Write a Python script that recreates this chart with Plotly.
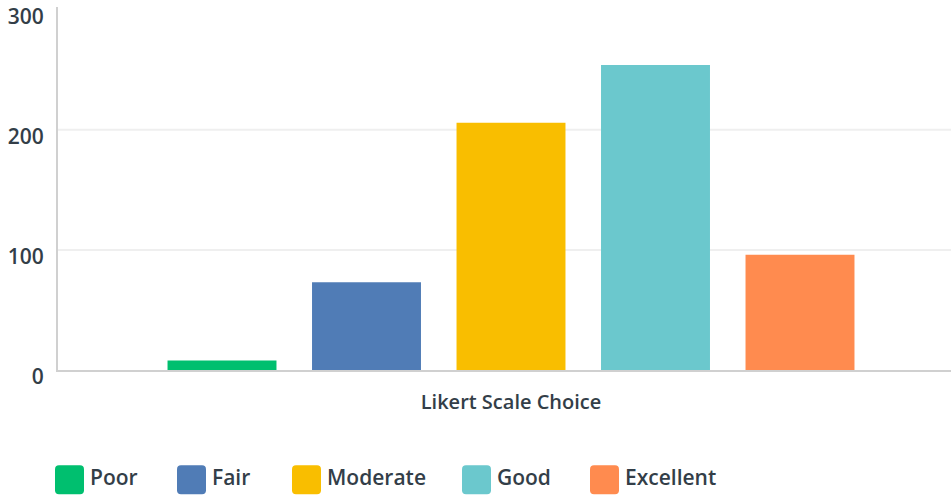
import plotly.graph_objects as go

# ---- data ----
categories = ["Poor", "Fair", "Moderate", "Good", "Excellent"]
values = [8, 73, 206, 254, 96]
colors = ["#00BF6F", "#507CB6", "#F9BE00", "#6BC8CD", "#FF8B4F"]
x_label = "Likert Scale Choice"
y_ticks = [0, 100, 200, 300]

# ---- layout constants ----
W, H = 951, 497
ML, MR, MT, MB = 58, 0, 7, 126.5
PW, PH = W - ML - MR, H - MT - MB
TEXT = "#333E48"
FONT = "Open Sans"

def px_to_paper_x(px):
    return (px - ML) / PW

def px_to_paper_y(py):
    return (H - MB - py) / PH

fig = go.Figure()
for name, v, c in zip(categories, values, colors):
    fig.add_trace(go.Bar(x=[x_label], y=[v], name=name, marker=dict(color=c, line=dict(width=0)),
                         showlegend=False))

shapes = []
# horizontal gridlines (inner ticks only)
for t in y_ticks[1:-1]:
    shapes.append(dict(type="line", xref="paper", yref="y", x0=0, x1=1, y0=t, y1=t,
                       line=dict(color="#EFEFEF", width=2), layer="below"))

# custom legend (large rounded swatches)
legend_left_px = [55, 177, 292, 462, 590]
sw = 29
r = 4
legend_cy = 480.5
annotations = []
for name, c, lx in zip(categories, colors, legend_left_px):
    path = (f"M {r},0 L {sw-r},0 Q {sw},0 {sw},{r} L {sw},{sw-r} Q {sw},{sw} {sw-r},{sw} "
            f"L {r},{sw} Q 0,{sw} 0,{sw-r} L 0,{r} Q 0,0 {r},0 Z")
    shapes.append(dict(type="path", xref="paper", yref="paper",
                       xsizemode="pixel", ysizemode="pixel",
                       xanchor=px_to_paper_x(lx), yanchor=px_to_paper_y(legend_cy + sw / 2),
                       path=path, fillcolor=c, line=dict(width=0)))
    annotations.append(dict(text=name, xref="paper", yref="paper",
                            x=px_to_paper_x(lx + sw + 4), y=px_to_paper_y(478),
                            xanchor="left", yanchor="middle", showarrow=False,
                            font=dict(family=FONT, size=21, color=TEXT, weight=600)))

fig.update_layout(
    width=W, height=H,
    margin=dict(l=ML, r=MR, t=MT, b=MB, pad=0, autoexpand=False),
    paper_bgcolor="white", plot_bgcolor="white",
    barmode="group", bargap=0.2, bargroupgap=0.246,
    shapes=shapes, annotations=annotations,
    showlegend=False,
    font=dict(family=FONT, color=TEXT),
)
fig.update_xaxes(type="category", range=[-0.5016, 0.4872], showgrid=False, automargin=False,
                 showline=True, linecolor="#D0D0D0", linewidth=2, ticks="",
                 ticklabelstandoff=13,
                 tickfont=dict(family=FONT, size=20, color=TEXT, weight=600))
fig.update_yaxes(range=[0, 302.3], tickvals=y_ticks, showgrid=False, zeroline=False,
                 automargin=False, ticklabeloverflow="allow",
                 showline=True, linecolor="#D0D0D0", linewidth=2, ticks="",
                 ticklabelshift=7, ticklabelstandoff=8,
                 tickfont=dict(family=FONT, size=21, color=TEXT, weight=600))

fig.write_html("out.html", config={"displayModeBar": False},
               post_script="document.body.style.margin='0';")
